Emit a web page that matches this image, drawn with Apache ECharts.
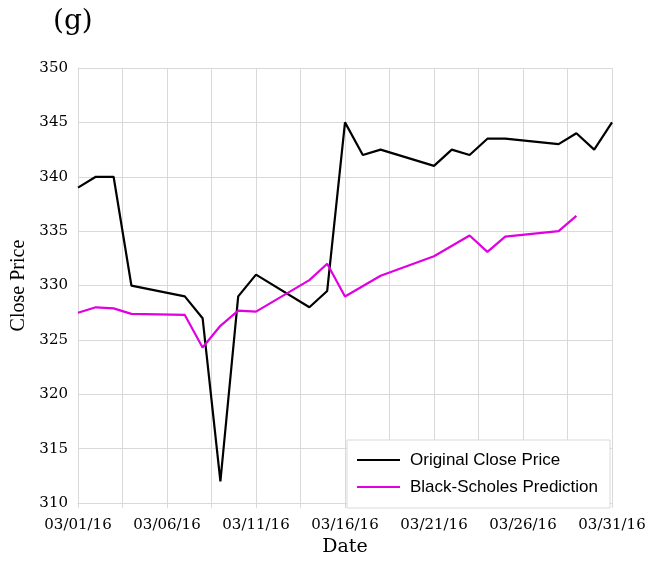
<!DOCTYPE html>
<html>
<head>
<meta charset="utf-8">
<script src="https://cdn.jsdelivr.net/npm/echarts@6/dist/echarts.min.js"></script>
<style>
html,body{margin:0;padding:0;background:#fff;}
#chart{width:649px;height:562px;}
</style>
</head>
<body>
<div id="chart"></div>
<script>
// ---- data ----
const xTickLabels = ['03/01/16','03/06/16','03/11/16','03/16/16','03/21/16','03/26/16','03/31/16'];
const closeDates = ['03/01/16','03/02/16','03/03/16','03/04/16','03/07/16','03/08/16','03/09/16','03/10/16','03/11/16','03/14/16','03/15/16','03/16/16','03/17/16','03/18/16','03/21/16','03/22/16','03/23/16','03/24/16','03/25/16','03/28/16','03/29/16','03/30/16','03/31/16'];
const closePrices = [339,340,340,330,329,327,312,329,331,328,329.5,345,342,342.5,341,342.5,342,343.5,343.5,343,344,342.5,345];
const predDates = ['03/01/16','03/02/16','03/03/16','03/04/16','03/07/16','03/08/16','03/09/16','03/10/16','03/11/16','03/14/16','03/15/16','03/16/16','03/18/16','03/21/16','03/23/16','03/24/16','03/25/16','03/28/16','03/29/16'];
const predPrices = [327.5,328,327.9,327.4,327.3,324.3,326.3,327.7,327.6,330.5,332,329,330.9,332.7,334.6,333.1,334.5,335,336.4];
const seriesNames = ['Original Close Price','Black-Scholes Prediction'];

// day offset from 03/01/16
function dayOf(d){ return parseInt(d.slice(3,5),10) - 1; }
function pairs(ds, vs){ return ds.map((d,i)=>[dayOf(d), vs[i]]); }

const serif = 'DejaVu Serif';
const chart = echarts.init(document.getElementById('chart'));
chart.setOption({
  animation: false,
  backgroundColor: '#fff',
  title: {
    text: '(g)', left: 53, top: 8, padding: 0,
    textStyle: {fontFamily: serif, fontSize: 28, fontWeight: 'normal', color: '#000'}
  },
  grid: {left: 78, right: 37, top: 68, bottom: 54, containLabel: false},
  xAxis: {
    type: 'value', min: 0, max: 30, interval: 2.5,
    name: 'Date', nameLocation: 'middle', nameGap: 31,
    nameTextStyle: {fontFamily: serif, fontSize: 19, color: '#000'},
    axisLine: {show: true, lineStyle: {color: '#d9d9d9', width: 1}},
    axisTick: {show: true, length: 5, lineStyle: {color: '#d9d9d9'}},
    splitLine: {show: true, lineStyle: {color: '#d9d9d9', width: 1}},
    axisLabel: {
      fontFamily: serif, fontSize: 15, color: '#000', margin: 15,
      formatter: function(v){
        const k = v / 5;
        return Math.abs(k - Math.round(k)) < 1e-6 ? (xTickLabels[Math.round(k)] || '') : '';
      }
    }
  },
  yAxis: {
    type: 'value', min: 310, max: 350, interval: 5,
    name: 'Close Price', nameLocation: 'middle', nameGap: 44,
    nameTextStyle: {fontFamily: 'Liberation Serif', fontSize: 20, color: '#000'},
    axisLine: {show: true, lineStyle: {color: '#d9d9d9', width: 1}},
    axisTick: {show: false},
    splitLine: {show: true, lineStyle: {color: '#d9d9d9', width: 1}},
    axisLabel: {fontFamily: serif, fontSize: 15, color: '#000', margin: 10}
  },
  graphic: [{
    type: 'rect', z: 3,
    shape: {x: 347, y: 440, width: 263, height: 68},
    style: {fill: '#fff', stroke: '#d9d9d9', lineWidth: 1}
  }],
  legend: {
    left: 347, top: 440, orient: 'vertical',
    padding: [11, 10, 10, 10], itemGap: 9,
    itemWidth: 43, itemHeight: 2, icon: 'rect',
    data: seriesNames,
    textStyle: {fontFamily: 'Liberation Sans', fontSize: 17, color: '#000', lineHeight: 18, padding: [0,0,0,5]},
    z: 5
  },
  series: [
    {
      name: seriesNames[0], type: 'line', data: pairs(closeDates, closePrices),
      symbol: 'none', lineStyle: {color: '#000', width: 2.2}, itemStyle: {color: '#000'}, z: 2
    },
    {
      name: seriesNames[1], type: 'line', data: pairs(predDates, predPrices),
      symbol: 'none', lineStyle: {color: '#e000e0', width: 2.2}, itemStyle: {color: '#e000e0'}, z: 2
    }
  ]
});
</script>
</body>
</html>
